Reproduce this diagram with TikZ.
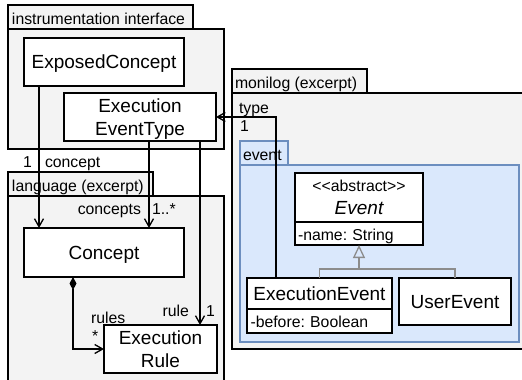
\documentclass[tikz,border=0pt]{standalone}
\usepackage{fontspec}
\setmainfont{Liberation Sans}
\usetikzlibrary{arrows.meta}
\frenchspacing

\definecolor{pkgfill}{HTML}{F3F3F3}
\definecolor{evfill}{HTML}{DAE8FC}
\definecolor{evline}{HTML}{6C8EBF}
\definecolor{genline}{HTML}{8C8C8C}

\newcommand\clsfont{\fontsize{19}{22.5}\selectfont}
\newcommand\lblfont{\fontsize{15.8}{18}\selectfont}

\tikzset{
  sz/.style 2 args={minimum width=#1pt, minimum height=#2pt},
  box/.style={draw, line width=1.3pt, inner sep=0pt, outer sep=0pt, anchor=north west},
  pkg/.style={box, fill=pkgfill},
  evpkg/.style={box, draw=evline, fill=evfill},
  cls/.style={box, fill=white, font=\clsfont, align=center, text depth=0pt},
  attr/.style={box, fill=white, font=\lblfont, align=left, text height=13pt, text depth=0pt},
  lbl/.style={font=\lblfont, inner sep=0pt, outer sep=0pt},
  assoc/.style={line width=1.3pt, -{Straight Barb[length=8pt,width=9pt]}},
  compo/.style={line width=1.3pt, {Diamond[length=13pt,width=7pt]}-{Straight Barb[length=8pt,width=9pt]}},
  gen/.style={line width=1.3pt, draw=genline},
}

\begin{document}
\begin{tikzpicture}[x=1pt, y=-1pt]
\clip (0,0) rectangle (522,380);

% packages: body first, then the name tab on top of it
\node[pkg, sz={216}{120}] (instBody) at (8,29) {};
\node[pkg, sz={185}{24}] (instTab) at (8,5) {};
\node[lbl, anchor=base west] (instName) at (12,24.5) {instrumentation interface};

\node[pkg, sz={216}{200}] (langBody) at (8,196) {};
\node[pkg, sz={145}{24}] (langTab) at (8,172) {};
\node[lbl, anchor=base west] (langName) at (12,191.5) {language (excerpt)};

\node[pkg, sz={300}{256}] (moniBody) at (232,93) {};
\node[pkg, sz={135}{24}] (moniTab) at (232,69) {};
\node[lbl, anchor=base west] (moniName) at (235,88) {monilog (excerpt)};

\node[evpkg, sz={279}{177}] (evBody) at (240,165) {};
\node[evpkg, sz={48}{24}] (evTab) at (240,141) {};
\node[lbl, anchor=base west] (evName) at (243,160) {event};

% classes
\node[cls, sz={160}{48}] (ec) at (24,38) {ExposedConcept};
\node[cls, sz={152}{48}] (eet) at (64,93) {Execution\\EventType};
\node[cls, sz={160}{49}] (concept) at (24,228) {Concept};
\node[cls, sz={113}{48}] (rule) at (104,325) {Execution\\Rule};

\node[cls, sz={128}{49}] (evHead) at (295,173)
  {{\lblfont <\kern0pt<abstract>\kern0pt>}\\{\itshape Event}};
\node[attr, sz={128}{23}, text width=122pt] (evAttr) at (evHead.south west) {-name: String};

\node[cls, sz={145}{31}] (xev) at (247,278) {ExecutionEvent};
\node[attr, sz={145}{24}, text width=138pt] (xevAttr) at (xev.south west) {-before: Boolean};

\node[cls, sz={112}{47}] (uev) at (399,278) {UserEvent};

% associations
\draw[assoc] ([xshift=15pt]ec.south west) -- ([xshift=15pt]concept.north west);
\draw[assoc] ([xshift=85pt]eet.south west) -- ([xshift=125pt]concept.north west);
\draw[assoc] ([xshift=136pt]eet.south west) -- ([xshift=96pt]rule.north west);
\draw[compo] ([xshift=49pt]concept.south west) |- (rule.west);
\draw[assoc] ([xshift=29pt]xev.north west) |- (eet.east);

% generalization
\coordinate (genJoin) at (359,269);
\draw[gen] (xev.north) -- (xev.north |- genJoin) -- (uev.north |- genJoin) -- (uev.north);
\draw[gen, -{Triangle[open,length=13pt,width=12pt]}] (genJoin) -- (evAttr.south);

% role names and multiplicities
\node[lbl, anchor=base east] (mConceptN) at (32,167) {1};
\node[lbl, anchor=base west] (mConceptR) at (45,167) {concept};
\node[lbl, anchor=base east] (mConceptsR) at (141,214) {concepts};
\node[lbl, anchor=base west] (mConceptsN) at (152,214) {1..*};
\node[lbl, anchor=base east] (mRuleR) at (189,316) {rule};
\node[lbl, anchor=base west] (mRuleN) at (206,316) {1};
\node[lbl, anchor=base west] (mRulesR) at (91,323) {rules};
\node[lbl, anchor=base west] (mRulesN) at (92,341.5) {*};
\node[lbl, anchor=base west] (mTypeR) at (239,113) {type};
\node[lbl, anchor=base west] (mTypeN) at (240,131) {1};
\end{tikzpicture}
\end{document}
